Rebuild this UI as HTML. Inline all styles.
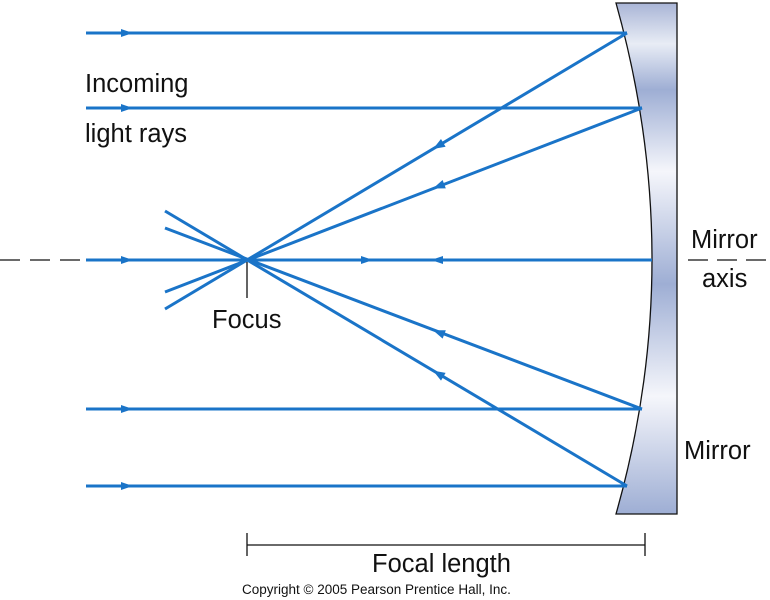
<!DOCTYPE html>
<html><head><style>
body{margin:0;background:#fff;}
svg{display:block;}
text{font-family:"Liberation Sans",sans-serif;fill:#111;}
</style></head><body>
<svg width="770" height="600" viewBox="0 0 770 600">
<defs>
<linearGradient id="g" x1="0" y1="0" x2="0" y2="1">
<stop offset="0" stop-color="#a9b5d6"/>
<stop offset="0.08" stop-color="#e8ecf5"/>
<stop offset="0.17" stop-color="#9eaed4"/>
<stop offset="0.33" stop-color="#f5f6fb"/>
<stop offset="0.55" stop-color="#9eaed4"/>
<stop offset="0.77" stop-color="#f5f6fb"/>
<stop offset="1" stop-color="#9eaed4"/>
</linearGradient>
</defs>
<path d="M616,3 L677,3 L677,514 L616,514 Q688,260 616,3 z" fill="url(#g)" stroke="#111" stroke-width="1.3"/>
<g stroke="#1a74c8" stroke-width="3" fill="none">
<line x1="86" y1="33" x2="627" y2="33"/>
<line x1="86" y1="108" x2="642" y2="108"/>
<line x1="86" y1="260" x2="652" y2="260"/>
<line x1="86" y1="409" x2="642" y2="409"/>
<line x1="86" y1="486" x2="627" y2="486"/>
<line x1="627" y1="33" x2="165" y2="309"/>
<line x1="642" y1="108" x2="165" y2="292"/>
<line x1="642" y1="409" x2="165" y2="228"/>
<line x1="627" y1="486" x2="165" y2="211"/>
</g>
<g fill="#1a74c8">
<path d="M121,29 L133,33 L121,37z"/>
<path d="M121,104 L133,108 L121,112z"/>
<path d="M121,256 L133,260 L121,264z"/>
<path d="M121,405 L133,409 L121,413z"/>
<path d="M121,482 L133,486 L121,490z"/>
<path d="M361,256 L373,260 L361,264z"/>
<path d="M443,256 L431,260 L443,264z"/>
<path d="M-12,-4.5 L0,0 L-12,4.5z" transform="translate(433,149) rotate(149.1)"/>
<path d="M-12,-4.5 L0,0 L-12,4.5z" transform="translate(433,188.5) rotate(159)"/>
<path d="M-12,-4.5 L0,0 L-12,4.5z" transform="translate(433,330.2) rotate(200.7)"/>
<path d="M-12,-4.5 L0,0 L-12,4.5z" transform="translate(433,370.6) rotate(210.7)"/>
</g>
<g stroke="#111" stroke-width="1.3">
<line x1="0" y1="260" x2="85" y2="260" stroke-dasharray="20,10"/>
<line x1="688" y1="260" x2="766" y2="260" stroke-dasharray="20,9"/>
<line x1="247" y1="262" x2="247" y2="298"/>
<line x1="247" y1="545" x2="645" y2="545"/>
<line x1="247" y1="533" x2="247" y2="556"/>
<line x1="645" y1="533" x2="645" y2="556"/>
</g>
<g font-size="25.5">
<text x="85" y="92">Incoming</text>
<text x="85" y="142">light rays</text>
<text x="212" y="328">Focus</text>
<text x="691" y="248">Mirror</text>
<text x="702" y="287">axis</text>
<text x="684" y="459">Mirror</text>
<text x="372" y="572">Focal length</text>
</g>
<text x="242" y="594" font-size="13.5">Copyright © 2005 Pearson Prentice Hall, Inc.</text>
</svg>
</body></html>
